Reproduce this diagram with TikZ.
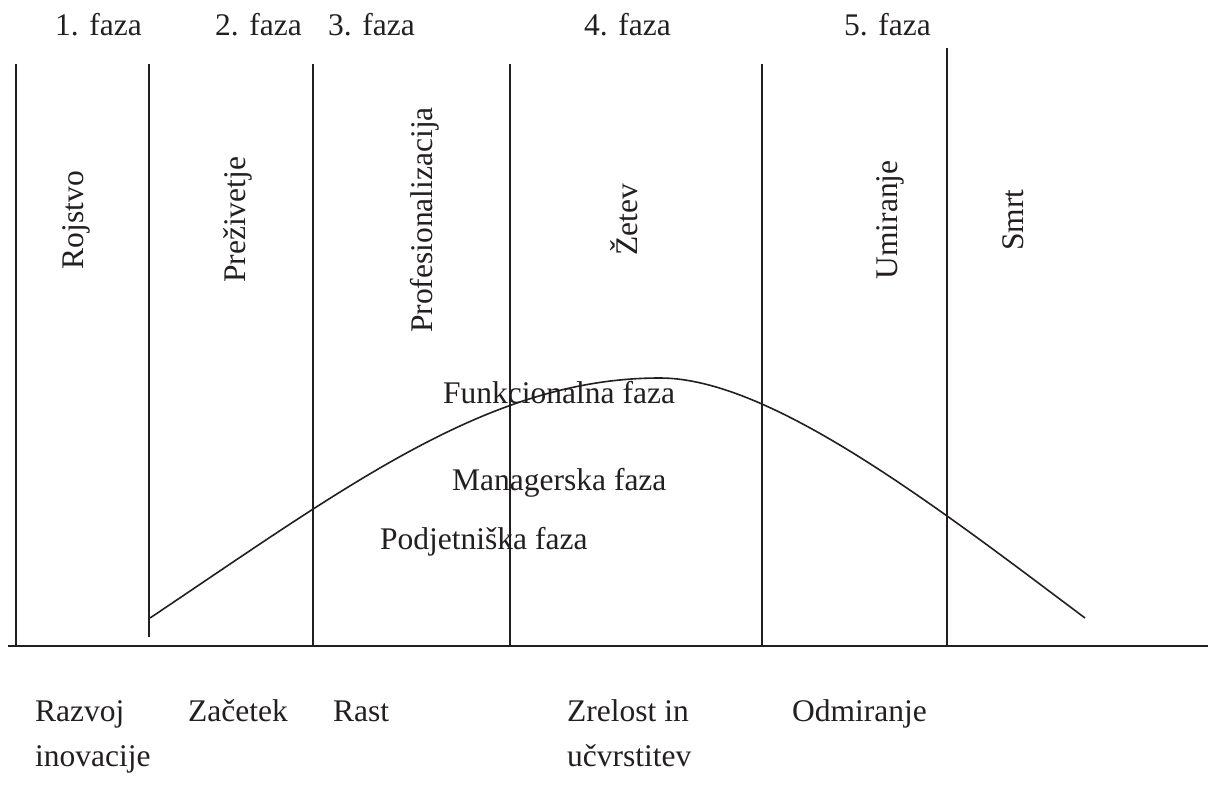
\documentclass[tikz,border=0pt]{standalone}
\usepackage{fontspec}
\setmainfont{Liberation Serif}
\definecolor{ink}{RGB}{35,31,32}
\begin{document}
\begin{tikzpicture}[x=1pt,y=-1pt,
  every path/.style={draw=ink},
  rule/.style={line width=1.7pt},
  base/.style={line width=2pt},
  curve/.style={line width=1.6pt},
  lbl/.style={font=\fontsize{31.5}{38}\selectfont, inner sep=0pt, text=ink, anchor=base west},
  vlbl/.style={font=\fontsize{31.5}{38}\selectfont, inner sep=0pt, text=ink, rotate=90, anchor=base}]
\useasboundingbox[fill=white, draw=none] (0,0) rectangle (1214,794);
% vertical dividers
\draw[rule] (16,64) -- (16,646);
\draw[rule] (149,64) -- (149,637);
\draw[rule] (313,64) -- (313,646);
\draw[rule] (510,64) -- (510,646);
\draw[rule] (762,64) -- (762,646);
\draw[rule] (947,48) -- (947,646);
% baseline
\draw[base] (8,646) -- (1208,646);
% life-cycle curve
\draw[curve] (150,618) .. controls (350,484) and (490,378) .. (660,378)
                       .. controls (770,378) and (935,505.5) .. (1085,618);
% phase numbers
\node[lbl] (f1) at (55,36) {1. faza};
\node[lbl] (f2) at (215,36) {2. faza};
\node[lbl] (f3) at (328,36) {3. faza};
\node[lbl] (f4) at (584,36) {4. faza};
\node[lbl] (f5) at (844,36) {5. faza};
% vertical labels
\node[vlbl] (v1) at (83,220) {Rojstvo};
\node[vlbl] (v2) at (245,220) {Preživetje};
\node[vlbl] (v3) at (432,220) {Profesionalizacija};
\node[vlbl] (v4) at (637,220) {Žetev};
\node[vlbl] (v5) at (897,220) {Umiranje};
\node[vlbl] (v6) at (1023,220) {Smrt};
% inner labels
\node[lbl] (m1) at (443,403) {Funkcionalna faza};
\node[lbl] (m2) at (452,490) {Managerska faza};
\node[lbl] (m3) at (380,549) {Podjetniška faza};
% bottom labels
\node[lbl] (b1) at (35,721) {Razvoj};
\node[lbl] (b1b) at (35,766) {inovacije};
\node[lbl] (b2) at (188,721) {Začetek};
\node[lbl] (b3) at (333,721) {Rast};
\node[lbl] (b4) at (567,721) {Zrelost in};
\node[lbl] (b4b) at (567,766) {učvrstitev};
\node[lbl] (b5) at (792,721) {Odmiranje};
\end{tikzpicture}
\end{document}
